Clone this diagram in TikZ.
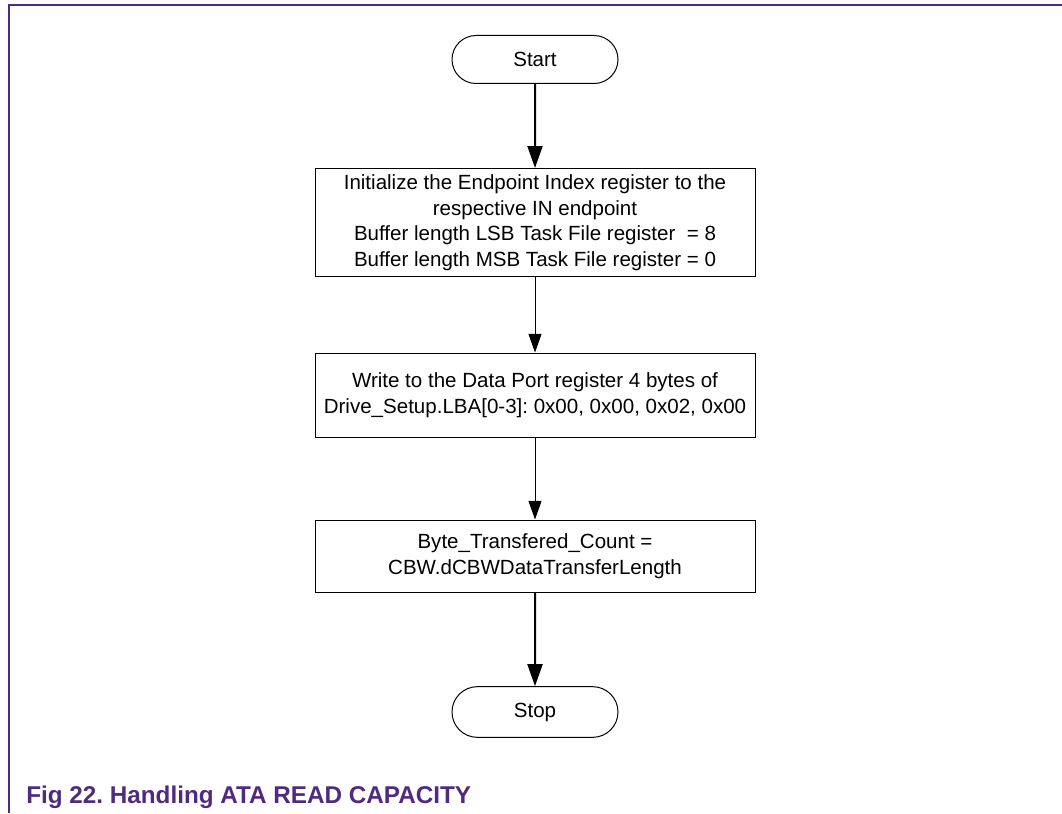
\documentclass[tikz,border=0pt]{standalone}
\usepackage{fontspec}
\setmainfont{Liberation Sans}
\usetikzlibrary{arrows.meta,shapes.misc}
\definecolor{nxppurple}{RGB}{80,42,126}
\frenchspacing
\tikzset{
  px/.style={x=0.75pt,y=-0.75pt},
  boxfont/.style={font=\fontsize{15.4}{19.2}\selectfont},
  terminal/.style={rounded rectangle,draw,line width=0.75pt,minimum width=124.5pt,minimum height=36pt,inner sep=0pt,boxfont},
  stepbox/.style={rectangle,draw,line width=0.75pt,minimum width=330pt,inner sep=0pt,align=center,boxfont},
  bigflow/.style={line width=1.5pt,-{Triangle[width=11.25pt,length=16.5pt]}},
  smallflow/.style={line width=0.75pt,-{Triangle[width=9.75pt,length=14pt]}},
  frameline/.style={draw=nxppurple,line width=1.3pt}
}
\begin{document}
\begin{tikzpicture}[px]
\useasboundingbox (0,0) rectangle (1062,813);
% page frame
\draw[frameline] (9,813) -- (9,5) -- (1062,5);
% flow
\node[terminal] (start) at (535,59.5) {Start};
\node[stepbox,minimum height=81pt] (init) at (535,222.5) {Initialize the Endpoint Index register to the\\respective IN endpoint\\Buffer length LSB Task File register~ = 8\\Buffer length MSB Task File register = 0};
\node[stepbox,minimum height=63pt] (write) at (535,395) {Write to the Data Port register 4 bytes of\\Drive\_Setup.LBA[0-3]: 0x00, 0x00, 0x02, 0x00};
\node[stepbox,minimum height=54pt] (count) at (535,556) {Byte\_Transfered\_Count =\\CBW.dCBWDataTransferLength};
\node[terminal,minimum height=38pt] (stop) at (535,712) {Stop};
\draw[bigflow] (start) -- (init);
\draw[smallflow] (init) -- (write);
\draw[smallflow] (write) -- (count);
\draw[bigflow] (count) -- (stop);
% caption
\node[anchor=base west,inner sep=0pt,text=nxppurple,font=\fontsize{18.2}{22}\selectfont\bfseries] (caption) at (26,803) {Fig 22. Handling ATA READ CAPACITY};
\end{tikzpicture}
\end{document}
